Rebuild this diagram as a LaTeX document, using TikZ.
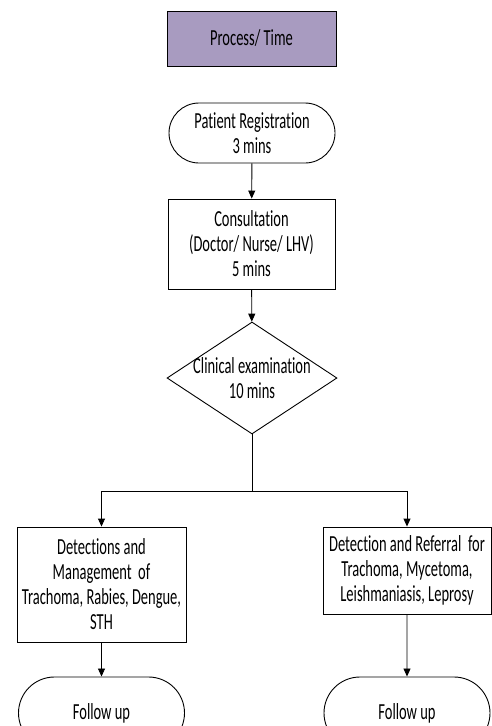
\documentclass[tikz,border=0pt]{standalone}
\usepackage{fontspec}
\setmainfont{Carlito}[FakeStretch=0.63, Ligatures=NoCommon]
\usetikzlibrary{arrows.meta, shapes.geometric, shapes.misc}
\definecolor{headpurple}{RGB}{168,155,192}
\newcommand{\flowfont}{\fontsize{23}{25}\selectfont}

\begin{document}
\begin{tikzpicture}[x=1pt, y=-1pt,
        txt/.style={align=center, font=\flowfont, inner sep=2pt},
        box/.style={txt, draw, line width=0.9pt, minimum width=168pt},
        term/.style={box, rounded rectangle, minimum width=170pt},
        decision/.style={diamond, draw, line width=0.9pt, inner sep=0pt,
                         minimum width=170pt, minimum height=112pt},
        line/.style={line width=0.9pt},
        arr/.style={line, -{Triangle[length=8pt, width=7pt]}}
      ]
        \useasboundingbox (0,0) rectangle (492,726);
        % header
        \node[box, fill=headpurple, minimum width=169pt, minimum height=55pt] (head) at (251.5,38.5) {Process/ Time};
        % main column
        \node[term, minimum height=60pt] (reg) at (252,133) {Patient Registration\\3 mins};
        \node[box, minimum width=167pt, minimum height=90pt] (consult) at (251.5,244) {Consultation\\(Doctor/ Nurse/ LHV)\\5 mins};
        \node[decision, label={[txt]center:Clinical examination\\10 mins}] (exam) at (252,378) {};
        \coordinate (split) at (252,491);
        % branches
        \node[box, minimum width=169pt, minimum height=115pt] (manage) at (101.5,584.5) {Detections and\\Management\ \ of\\Trachoma, Rabies, Dengue,\\STH};
        \node[box, minimum height=87pt] (refer) at (407,570.5) {Detection and Referral\ \ for\\Trachoma, Mycetoma,\\Leishmaniasis, Leprosy};
        \node[term, minimum height=72pt] (follow1) at (101.5,713) {Follow up};
        \node[term, minimum height=72pt] (follow2) at (407,713) {Follow up};
        \draw[arr] (reg) -- (consult);
        \draw[arr] (consult) -- (exam);
        \draw[line] (exam.south) -- (split);
        \draw[arr] (split) -| (manage.north);
        \draw[arr] (split) -| (refer.north);
        \draw[arr] (manage) -- (follow1);
        \draw[arr] (refer) -- (follow2);
      \end{tikzpicture}
\end{document}
